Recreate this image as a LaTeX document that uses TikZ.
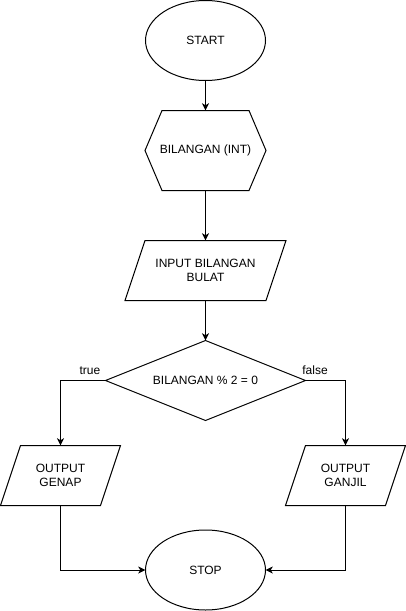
\documentclass[tikz,border=0pt]{standalone}
\usepackage{fontspec}
\setmainfont{Liberation Sans}
\usetikzlibrary{arrows.meta,calc,shapes.geometric}
\begin{document}
\begin{tikzpicture}[x=0.75pt,y=-0.75pt,
  every node/.style={font=\fontsize{9pt}{11pt}\selectfont, align=center, inner sep=0pt, outer sep=0pt},
  line/.style={line width=0.75pt, draw=black},
  term/.style={ellipse, line, minimum width=90pt, minimum height=60pt},
  box/.style={rectangle, draw=none, minimum height=#1},
  conn/.style={line, -{Stealth[length=5.5pt,width=5.25pt,inset=1.6pt]}},
  lbl/.style={font=\fontsize{9pt}{11pt}\selectfont}
]
\useasboundingbox (0,0) rectangle (406,611);
% nodes
\node[term] (start) at (205.5,40.5) {START};
\node[box=60pt, minimum width=90.75pt] (hex) at (205.5,150.5) {BILANGAN (INT)};
\node[box=45pt, minimum width=120.75pt] (inp) at (205.5,270.5) {INPUT BILANGAN\\BULAT};
\node[box=60pt, minimum width=150pt] (dec) at (205.5,380.5) {BILANGAN \% 2 = 0};
\node[box=45pt, minimum width=90pt] (genap) at (60.5,475.5) {OUTPUT\\GENAP};
\node[box=45pt, minimum width=90pt] (ganjil) at (345.5,475.5) {OUTPUT\\GANJIL};
\node[term] (stop) at (205.5,570) {STOP};
% outlines
\draw[line] ($(hex.north west)+(17,0)$) -- ($(hex.north east)+(-17,0)$) -- (hex.east)
  -- ($(hex.south east)+(-17,0)$) -- ($(hex.south west)+(17,0)$) -- (hex.west) -- cycle;
\draw[line] (inp.south west) -- ($(inp.south east)+(-20,0)$) -- (inp.north east)
  -- ($(inp.north west)+(20,0)$) -- cycle;
\draw[line] (dec.north) -- (dec.east) -- (dec.south) -- (dec.west) -- cycle;
\draw[line] (genap.south west) -- ($(genap.south east)+(-20,0)$) -- (genap.north east)
  -- ($(genap.north west)+(20,0)$) -- cycle;
\draw[line] (ganjil.south west) -- ($(ganjil.south east)+(-20,0)$) -- (ganjil.north east)
  -- ($(ganjil.north west)+(20,0)$) -- cycle;
% connectors
\draw[conn] (start.south) -- (hex.north);
\draw[conn] (hex.south) -- (inp.north);
\draw[conn] (inp.south) -- (dec.north);
\draw[conn] (dec.west) -| (genap.north);
\draw[conn] (dec.east) -| (ganjil.north);
\draw[conn] (genap.south) |- (stop.west);
\draw[conn] (ganjil.south) |- (stop.east);
% labels
\node[lbl] (ltrue) at (90,370.5) {true};
\node[lbl] (lfalse) at (315,370.5) {false};
\end{tikzpicture}
\end{document}
